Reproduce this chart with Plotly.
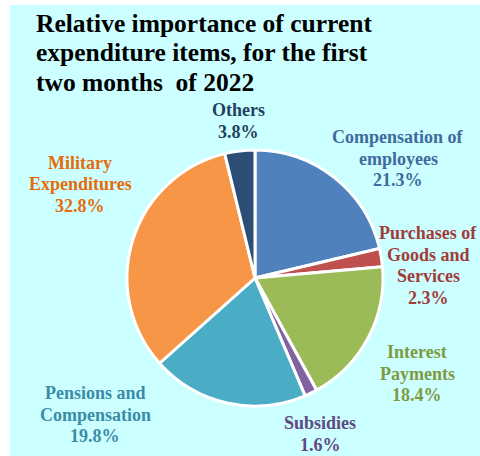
import plotly.graph_objects as go

categories = ["Compensation of employees", "Purchases of Goods and Services",
              "Interest Payments", "Subsidies", "Pensions and Compensation",
              "Military Expenditures", "Others"]
label_lines = [["Compensation of", "employees"], ["Purchases of", "Goods and", "Services"],
               ["Interest", "Payments"], ["Subsidies"], ["Pensions and", "Compensation"],
               ["Military", "Expenditures"], ["Others"]]
values = [21.3, 2.3, 18.4, 1.6, 19.8, 32.8, 3.8]
title_lines = ["Relative importance of current", "expenditure items, for the first",
               "two months  of 2022"]
slice_colors = ["#4F81BD", "#C0504D", "#9BBB59", "#8064A2", "#4BACC6", "#F79646", "#2C4D75"]
text_colors = ["#3F6A9E", "#A03C3A", "#7F9A3E", "#604A82", "#3A8CA8", "#E46C0A", "#243F60"]
# label centre x and first-line centre y in pixels (from top)
label_pos = [(398, 137), (428, 233), (417, 352), (320, 423), (95, 393), (80, 163), (238, 110)]
LINE_H = 21.5

W, H = 480, 456
BG = "#CCFFFF"
FONT = "Liberation Serif"

fig = go.Figure()
fig.add_trace(go.Pie(
    labels=categories, values=values, sort=False, direction="clockwise", rotation=0,
    marker=dict(colors=slice_colors, line=dict(color="white", width=3)),
    textinfo="none", hoverinfo="label+percent", showlegend=False,
    domain=dict(x=[127 / W, 383 / W], y=[(H - 406) / H, (H - 150) / H]),
))

for lines, v, c, (px, py) in zip(label_lines, values, text_colors, label_pos):
    for i, t in enumerate(lines + [f"{v:.1f}%"]):
        fig.add_annotation(
            x=px / W, y=1 - (py + i * LINE_H) / H, xref="paper", yref="paper",
            text=f"<b>{t}</b>", showarrow=False, align="center",
            xanchor="center", yanchor="middle",
            font=dict(family=FONT, size=18, color=c),
        )

for i, t in enumerate(title_lines):
    fig.add_annotation(
        x=34 / W, y=1 - (24 + i * 29) / H, xref="paper", yref="paper",
        text=f"<b>{t}</b>", showarrow=False, align="left", xanchor="left", yanchor="middle",
        font=dict(family=FONT, size=25.5, color="black"),
    )

fig.update_layout(
    width=W, height=H, margin=dict(l=0, r=0, t=0, b=0),
    paper_bgcolor="white",
    shapes=[dict(type="rect", xref="paper", yref="paper", x0=10 / W, x1=1, y0=0, y1=1 - 5 / H,
                 fillcolor=BG, line=dict(width=0), layer="below")],
)

fig.write_html("out.html", config={"displayModeBar": False},
               post_script="document.body.style.margin='0';")
